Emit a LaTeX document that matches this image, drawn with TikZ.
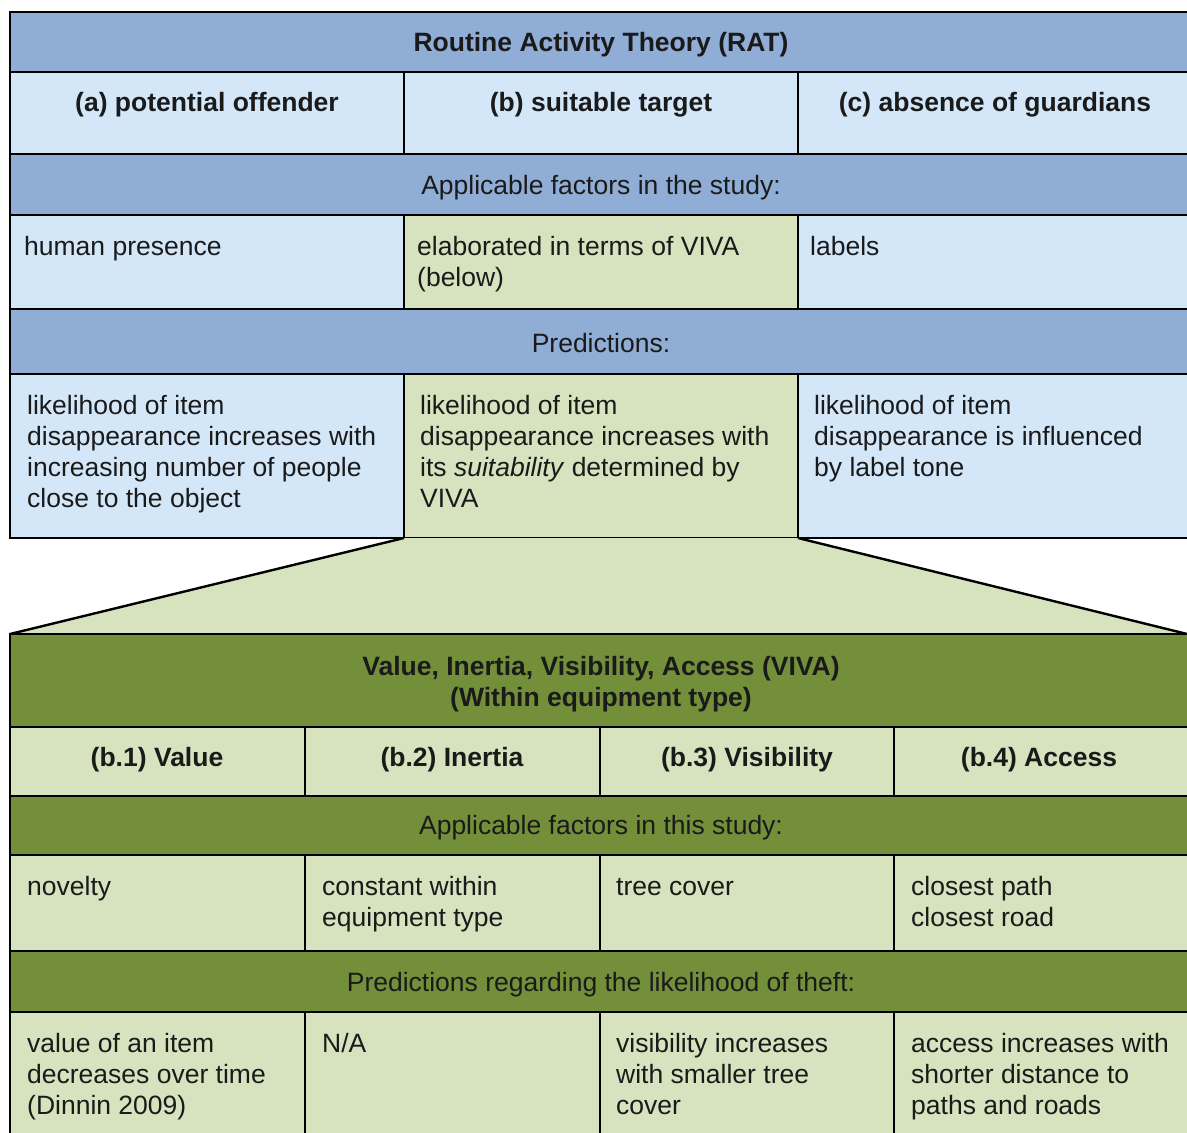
\documentclass[tikz,border=0pt]{standalone}
\usepackage{fontspec}
\setmainfont{Liberation Sans}
\definecolor{bluehead}{HTML}{8FADD5}
\definecolor{bluecell}{HTML}{D3E7F9}
\definecolor{greencell}{HTML}{D7E2BE}
\definecolor{greenhead}{HTML}{738F3A}
\definecolor{txtcol}{HTML}{1A1A1A}
\begin{document}
\begin{tikzpicture}[x=1pt,y=-1pt,
  frame/.style={draw=black,line width=2.4pt},
  bhead/.style={frame,fill=bluehead},
  bcell/.style={frame,fill=bluecell},
  gcell/.style={frame,fill=greencell},
  ghead/.style={frame,fill=greenhead},
  txt/.style={anchor=north west,inner sep=0pt,align=left,text=txtcol,font=\fontsize{26.5}{31}\selectfont},
  ttl/.style={inner sep=0pt,align=center,text=txtcol,font=\fontsize{26.5}{31}\selectfont\bfseries},
  sub/.style={inner sep=0pt,align=center,text=txtcol,font=\fontsize{26.5}{31}\selectfont}]
\useasboundingbox (0,0) rectangle (1187,1133);
\clip (0,0) rectangle (1187,1133);
\fill[white] (0,0) rectangle (1187,1133);
% ---------- RAT table ----------
\draw[bhead] (10,12) rectangle (1192,72);
\draw[bcell] (10,72) rectangle (404,154);
\draw[bcell] (404,72) rectangle (798,154);
\draw[bcell] (798,72) rectangle (1192,154);
\draw[bhead] (10,154) rectangle (1192,215);
\draw[bcell] (10,215) rectangle (404,309);
\draw[gcell] (404,215) rectangle (798,309);
\draw[bcell] (798,215) rectangle (1192,309);
\draw[bhead] (10,309) rectangle (1192,374);
\draw[bcell] (10,374) rectangle (404,538);
\draw[gcell] (404,374) rectangle (798,538);
\draw[bcell] (798,374) rectangle (1192,538);
% ---------- zoom trapezoid ----------
\coordinate (tl) at (404,538);
\coordinate (tr) at (798,538);
\coordinate (bl) at (10,634);
\coordinate (br) at (1187,634);
\fill[greencell] (tl) -- (tr) -- (1192,634) -- (bl) -- cycle;
\draw[line width=2.4pt] (tl) -- (bl);
\draw[line width=2.4pt] (tr) -- (br);
% ---------- VIVA table ----------
\draw[ghead] (10,634) rectangle (1192,727);
\draw[gcell] (10,727) rectangle (305,796);
\draw[gcell] (305,727) rectangle (600,796);
\draw[gcell] (600,727) rectangle (894,796);
\draw[gcell] (894,727) rectangle (1192,796);
\draw[ghead] (10,796) rectangle (1192,855);
\draw[gcell] (10,855) rectangle (305,951);
\draw[gcell] (305,855) rectangle (600,951);
\draw[gcell] (600,855) rectangle (894,951);
\draw[gcell] (894,855) rectangle (1192,951);
\draw[ghead] (10,951) rectangle (1192,1012);
\draw[gcell] (10,1012) rectangle (305,1150);
\draw[gcell] (305,1012) rectangle (600,1150);
\draw[gcell] (600,1012) rectangle (894,1150);
\draw[gcell] (894,1012) rectangle (1192,1150);
% ---------- RAT texts ----------
\node[ttl] (rat) at (601,45) {Routine Activity Theory (RAT)};
\node[ttl] (ta) at (207,105) {(a) potential offender};
\node[ttl] (tb) at (601,105) {(b) suitable target};
\node[ttl] (tc) at (995,105) {(c) absence of guardians};
\node[sub] (appl) at (601,188) {Applicable factors in the study:};
\node[txt] (fa) at (24,236) {human presence};
\node[txt] (fb) at (417,236) {elaborated in terms of VIVA\\(below)};
\node[txt] (fc) at (810,236) {labels};
\node[sub] (pred) at (601,343) {Predictions:};
\node[txt] (pa) at (27,395) {likelihood of item\\disappearance increases with\\increasing number of people\\close to the object};
\node[txt] (pb) at (420,395) {likelihood of item\\disappearance increases with\\its \textit{suitability} determined by\\VIVA};
\node[txt] (pc) at (814,395) {likelihood of item\\disappearance is influenced\\by label tone};
% ---------- VIVA texts ----------
\node[ttl] (viva) at (601,684) {Value, Inertia, Visibility, Access (VIVA)\\(Within equipment type)};
\node[ttl] (b1) at (157,760) {(b.1) Value};
\node[ttl] (b2) at (452,760) {(b.2) Inertia};
\node[ttl] (b3) at (747,760) {(b.3) Visibility};
\node[ttl] (b4) at (1039,760) {(b.4) Access};
\node[sub] (appl2) at (601,828) {Applicable factors in this study:};
\node[txt] (f1) at (27,876) {novelty};
\node[txt] (f2) at (322,876) {constant within\\equipment type};
\node[txt] (f3) at (616,878) {tree cover};
\node[txt] (f4) at (911,876) {closest path\\closest road};
\node[sub] (pred2) at (601,985) {Predictions regarding the likelihood of theft:};
\node[txt] (p1) at (27,1033) {value of an item\\decreases over time\\(Dinnin 2009)};
\node[txt] (p2) at (322,1033) {N/A};
\node[txt] (p3) at (616,1033) {visibility increases\\with smaller tree\\cover};
\node[txt] (p4) at (911,1033) {access increases with\\shorter distance to\\paths and roads};
\end{tikzpicture}
\end{document}
